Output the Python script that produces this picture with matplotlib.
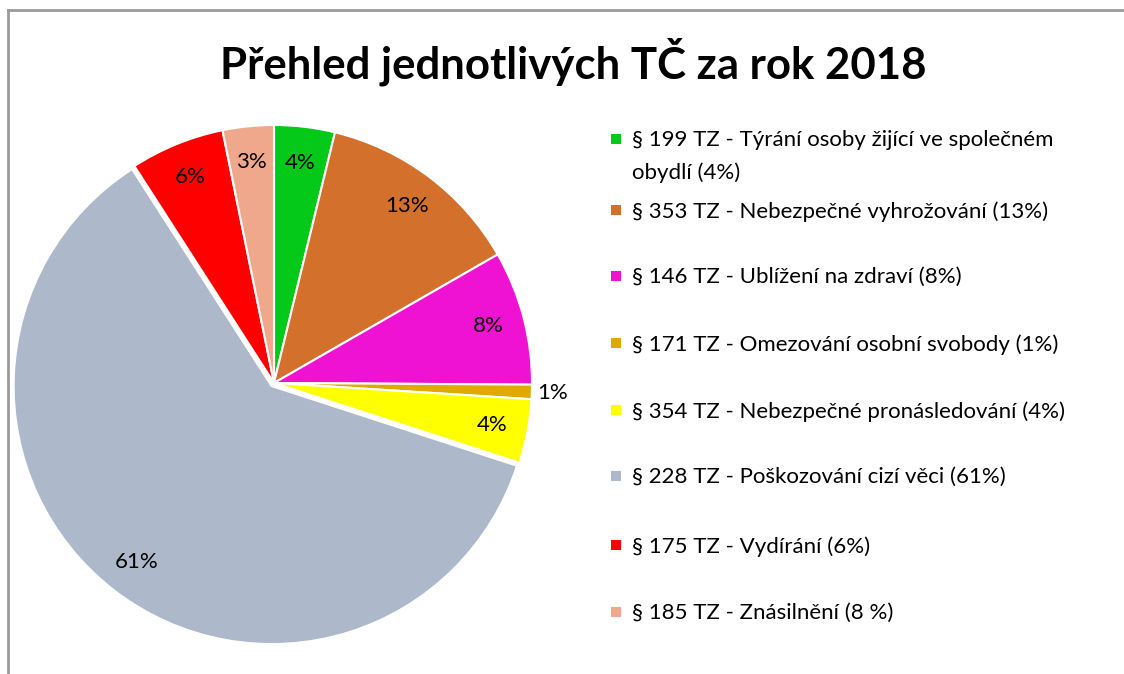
import numpy as np
import matplotlib
matplotlib.use("Agg")
import matplotlib.pyplot as plt
from matplotlib.patches import Rectangle
from matplotlib.lines import Line2D

# ---- data ----
title = "Přehled jednotlivých TČ za rok 2018"
legend_labels = [
    "§ 199 TZ - Týrání osoby žijící ve společném\nobydlí (4%)",
    "§ 353 TZ - Nebezpečné vyhrožování (13%)",
    "§ 146 TZ - Ublížení na zdraví (8%)",
    "§ 171 TZ - Omezování osobní svobody (1%)",
    "§ 354 TZ - Nebezpečné pronásledování (4%)",
    "§ 228 TZ - Poškozování cizí věci (61%)",
    "§ 175 TZ - Vydírání (6%)",
    "§ 185 TZ - Znásilnění (8 %)",
]
values = [3.8, 12.9, 8.4, 0.9, 4.0, 60.9, 5.9, 3.2]
colors = ["#05C918", "#D2702C", "#F012D2", "#E1A800", "#FFFF00",
          "#ADB8CA", "#FF0000", "#F0A88C"]
explode = [0, 0, 0, 0, 0, 0.015, 0, 0]

FONT = ["Lato", "DejaVu Sans"]
plt.rcParams["font.family"] = FONT

W, H = 1124, 674
fig = plt.figure(figsize=(W / 100, H / 100), dpi=100)

# border lines (chart area frame)
fig.add_artist(Line2D([8 / W, 1.0], [1 - 10 / H, 1 - 10 / H], color="#9a9a9a", lw=2))
fig.add_artist(Line2D([8 / W, 8 / W], [0.0, 1 - 10 / H], color="#9a9a9a", lw=2))

fig.text(573 / W, 1 - 62 / H, title, ha="center", va="center",
         fontsize=31.5, fontweight="bold", color="black")

cx, cy, r = 274, 383, 258
ax = fig.add_axes([(cx - r) / W, (H - cy - r) / H, 2 * r / W, 2 * r / H])
wedges, texts, autotexts = ax.pie(
    values, colors=colors, startangle=90, counterclock=False,
    explode=explode, autopct="%1.0f%%", pctdistance=0.86,
    wedgeprops=dict(edgecolor="white", linewidth=1.5),
    textprops=dict(fontsize=16, color="black"))
ax.set_xlim(-1, 1)
ax.set_ylim(-1, 1)
ax.set_aspect("equal")
ax.axis("off")

# move small-slice label outside
for w, t, v in zip(wedges, autotexts, values):
    if v < 2:
        ang = np.deg2rad((w.theta1 + w.theta2) / 2)
        t.set_position((1.08 * np.cos(ang), 1.08 * np.sin(ang)))
        t.set_ha("center")

# legend
leg_y = [139, 210, 276, 343, 410, 476, 545, 612]
for lab, col, y in zip(legend_labels, colors, leg_y):
    fig.add_artist(Rectangle((611 / W, 1 - (y + 5) / H), 10 / W, 10 / H,
                             facecolor=col, edgecolor="none"))
    fig.text(632 / W, 1 - (y - 9) / H, lab, ha="left", va="top",
             fontsize=16, color="black", linespacing=1.75)

fig.savefig("out.png", dpi=100, facecolor="white")
